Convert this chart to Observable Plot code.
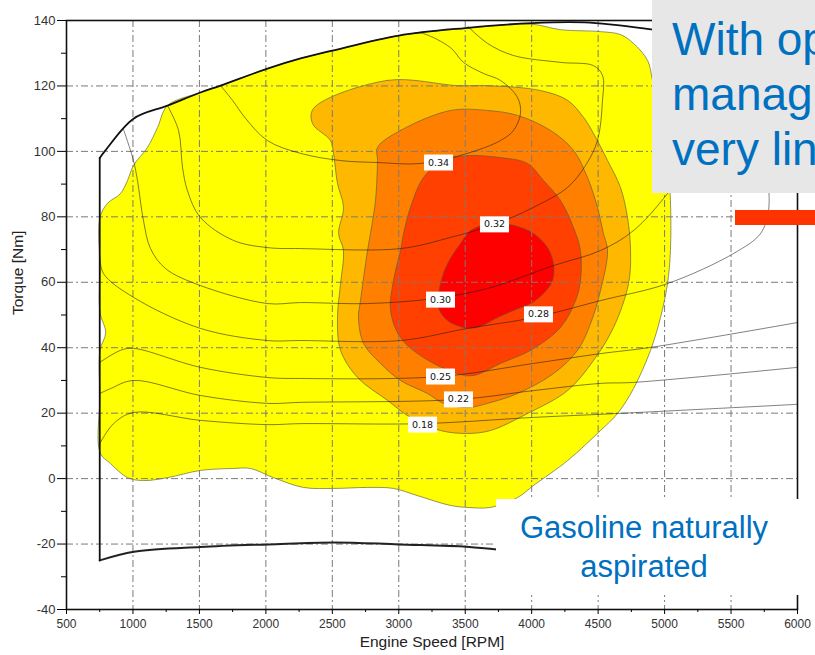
<!DOCTYPE html>
<html><head><meta charset="utf-8">
<script src="https://cdn.jsdelivr.net/npm/d3@7"></script>
<script src="https://cdn.jsdelivr.net/npm/@observablehq/plot@0.6"></script>
<style>
html,body{margin:0;padding:0;background:#fff;overflow:hidden;}
#wrap{position:relative;width:815px;height:655px;overflow:hidden;}
#wrap svg{display:block;}
.note{position:absolute;font-family:"Liberation Sans",Arial,sans-serif;color:#0070C0;white-space:nowrap;overflow:hidden;}
#grayBox{left:652px;top:0;width:163px;height:193px;background:#e7e7e7;font-size:46px;line-height:55px;padding:12px 0 0 20px;box-sizing:border-box;}
#whiteBox{left:496px;top:499px;width:319px;height:96px;background:#fff;font-size:31px;line-height:39px;padding-top:9px;box-sizing:border-box;}
#whiteBox div{width:296px;text-align:center;}
#bar{position:absolute;left:735px;top:210px;width:80px;height:15px;background:#ff3300;}
</style></head><body><div id="wrap"></div>
<script>
// axis ticks
const xTicks = [500,1000,1500,2000,2500,3000,3500,4000,4500,5000,5500,6000];
const xMinor = [750,1250,1750,2250,2750,3250,3750,4250,4750,5250,5750];
const yTicks = [-40,-20,0,20,40,60,80,100,120,140];
const yMinor = [-30,-10,10,30,50,70,90,110,130];
const xGrid = [1000,1500,2000,2500,3000,3500,4000,4500,5000,5500];
const yGrid = [-20,0,20,40,60,80,100,120];

// engine limits [rpm, Nm]
const fullLoadCurve = [[750,98],[793,100.3],[1004,110],[1260,114],[1508,118],[1659,120.1],[2012,125.3],[2261,128.4],[2500,130.8],[3000,135.4],[3500,137.7],[4000,139.2],[4400,139.4],[4900,137.3],[5200,135.5]];
const motoringCurve = [[750,-25],[1020,-22.3],[1508,-20.9],[2020,-20.1],[2510,-19.5],[3000,-20.1],[3510,-20.8],[3720,-21.6],[4100,-23]];
const idleLine = [[750,-25],[750,98]];

// filled efficiency zones [rpm, Nm]
const zoneYellow = [[1260,114.0],[1508,118.0],[1659,120.1],[2012,125.3],[2261,128.4],[2509,130.8],[2998,135.4],[3502,137.6],[3991,138.9],[4217,137.2],[4518,136.6],[4668,135.7],[4766,133.0],[4872,127.8],[4909,121.7],[4969,109.4],[5022,97.2],[5044,85.0],[5044,69.7],[5022,59.6],[4969,49.2],[4894,39.2],[4766,27.5],[4646,19.9],[4518,14.7],[4270,5.5],[4014,-2.1],[3893,-5.8],[3690,-8.8],[3517,-8.8],[3389,-8.2],[3141,-5.2],[2960,-3.0],[2765,-2.7],[2509,-3.0],[2283,-2.7],[2057,0.3],[1884,3.1],[1756,3.1],[1508,2.5],[1260,0.3],[1079,-0.6],[959,0.3],[831,4.6],[752,8.0],[751,25],[752,39.2],[795,44.6],[752,50.8],[751,65],[752,79.8],[808,84.1],[906,87.1],[959,91.1],[1004,95.7],[1109,101.2],[1185,107.3]];
const zoneLightOrange = [[2358,113.1],[2915,121.7],[3442,120.1],[3668,120.1],[4066,118.6],[4270,115.6],[4390,110.4],[4465,105.5],[4571,97.2],[4668,89.0],[4721,79.8],[4744,69.7],[4729,59.6],[4616,46.2],[4465,36.1],[4270,26.9],[3969,19.9],[3690,14.7],[3517,13.8],[3314,14.7],[3088,18.7],[2915,23.9],[2690,30.9],[2562,39.2],[2539,49.2],[2562,59.6],[2584,69.7],[2547,74.9],[2584,82.9],[2539,90.2],[2509,99.4],[2486,103.3],[2351,108.5]];
const zoneOrange = [[2840,101.2],[3013,106.4],[3389,112.5],[3668,112.5],[3893,111.0],[4142,106.4],[4315,100.3],[4420,92.0],[4495,82.9],[4540,74.9],[4571,69.7],[4518,57.5],[4443,47.4],[4345,39.2],[4164,32.1],[3893,26.0],[3668,23.0],[3517,21.7],[3337,23.0],[3216,26.0],[3013,30.0],[2863,35.2],[2735,41.3],[2697,49.2],[2712,54.4],[2765,69.7],[2787,74.9],[2825,85.0],[2840,97.2]];
const zoneRedOrange = [[3337,97.2],[3517,98.7],[3765,98.1],[3969,96.3],[4089,91.1],[4217,85.0],[4315,76.7],[4367,69.7],[4367,60.5],[4330,54.4],[4217,46.2],[3991,39.2],[3765,35.2],[3562,31.5],[3442,32.1],[3186,37.0],[3013,43.1],[2938,51.4],[2960,60.5],[3013,69.7],[3036,74.9],[3088,82.9],[3186,92.0]];
const zoneRed = [[3540,75.8],[3690,78.0],[3863,77.4],[4014,74.9],[4119,70.6],[4164,65.7],[4157,60.5],[4089,56.6],[3991,53.5],[3863,51.4],[3743,49.2],[3592,46.2],[3487,46.2],[3367,48.3],[3299,52.3],[3314,59.6],[3367,65.7],[3465,71.9]];
const zoneColors = ["#ffff00","#ffb800","#ff8000","#ff4000","#ff0000"];

// iso lines [rpm, Nm]
const iso034 = [[1659,120.1],[1749,115.6],[1847,110.1],[2012,103.3],[2261,99.4],[2562,97.2],[2840,96.6],[3164,96.3],[3517,99.4],[3765,103.3],[3863,106.4],[3916,111.6],[3893,116.5],[3765,121.7],[3638,123.8],[3487,127.2],[3389,131.7],[3186,136.0],[3120,136.2]];
const iso032 = [[1260,114],[1343,106.4],[1373,95.1],[1410,88.0],[1508,79.8],[1756,72.8],[2012,70.6],[2261,70.3],[3013,70.3],[3389,73.7],[3720,77.7],[4014,82.9],[4270,89.0],[4405,95.7],[4495,103.3],[4533,115.6],[4533,123.2],[4465,126.2],[4217,127.2],[3863,129.3],[3668,133.0],[3517,138.3]];
const iso030 = [[929,106.7],[1004,97.2],[1034,91.1],[1079,78.9],[1132,70.3],[1245,64.2],[1508,59.0],[2012,53.5],[2261,53.8],[2765,53.5],[3261,55.0],[3668,58.1],[4164,65.1],[4518,69.7],[4766,75.8],[5022,87.1],[5195,97.2]];
const iso028 = [[750,68],[778,62.7],[1004,55.4],[1508,45.9],[2012,42.2],[2261,42.2],[3013,42.2],[3517,45.9],[4014,49.2],[4518,54.4],[5022,59.6],[5519,68.8],[5722,74.9],[5782,81.9],[5782,90]];
const iso025 = [[750,35.5],[906,39.2],[1004,39.8],[1508,34.0],[2012,30.9],[2261,30.6],[3314,31.2],[4014,35.2],[4518,38.2],[4894,40.1],[6000,47.7]];
const iso022 = [[750,26.0],[831,27.5],[1004,30.0],[1508,25.4],[2012,23.0],[2261,23.3],[3449,24.2],[4014,26.9],[4518,29.1],[4766,29.4],[6000,34.0]];
const iso018 = [[750,10.7],[854,16.8],[1004,20.2],[1508,17.8],[2012,16.5],[2261,16.8],[3179,16.8],[4014,18.7],[4646,19.9],[6000,22.7]];

// line labels
const effLabels = ["0.34","0.32","0.30","0.28","0.25","0.22","0.18"];
const labelRpm = [3299,3720,3314,4051,3314,3449,3179];
const labelNm = [96.6,77.7,54.7,50.2,31.2,24.2,16.5];

// annotations
const noteTop = ["With op","manag","very lin"];
const noteBottom = ["Gasoline naturally","aspirated"];

const pts = a => a.map(([x, y]) => ({x, y}));
const zones = [zoneYellow, zoneLightOrange, zoneOrange, zoneRedOrange, zoneRed];
const isoLines = [iso034, iso032, iso030, iso028, iso025, iso022, iso018];
const labels = effLabels.map((t, i) => ({t, x: labelRpm[i], y: labelNm[i]}));
const labelBox = {draw(ctx) { ctx.rect(-14.5, -8, 29, 16); }};

const chart = Plot.plot({
  width: 815, height: 655,
  marginLeft: 66, marginRight: 18, marginTop: 20, marginBottom: 46,
  style: {fontFamily: "'Liberation Sans', Arial, sans-serif", background: "#fff"},
  x: {domain: [500, 6000], label: null},
  y: {domain: [-40, 140], label: null},
  marks: [
    ...zones.map((z, i) => Plot.line(pts(z), {x: "x", y: "y", fill: zoneColors[i], stroke: "#5a5a3a", strokeWidth: 0.8, strokeOpacity: 0.8, curve: "catmull-rom-closed"})),
    Plot.ruleX(xGrid, {stroke: "#7a7a7a", strokeWidth: 1, strokeDasharray: "7,3,2,3"}),
    Plot.ruleY(yGrid, {stroke: "#7a7a7a", strokeWidth: 1, strokeDasharray: "7,3,2,3"}),
    ...isoLines.map(l => Plot.line(pts(l), {x: "x", y: "y", stroke: "#1a1a1a", strokeOpacity: 0.55, strokeWidth: 1, curve: "catmull-rom"})),
    Plot.line(pts(fullLoadCurve), {x: "x", y: "y", stroke: "#111", strokeWidth: 1.8, curve: "catmull-rom"}),
    Plot.line(pts(motoringCurve), {x: "x", y: "y", stroke: "#222", strokeWidth: 2, curve: "catmull-rom"}),
    Plot.line(pts(idleLine), {x: "x", y: "y", stroke: "#111", strokeWidth: 1.8}),
    Plot.frame({stroke: "#111", strokeWidth: 1.6}),
    Plot.axisX(xTicks, {tickSize: 5, tickPadding: 5, fontSize: 12, fill: "#333", label: null, tickFormat: d => String(d)}),
    Plot.axisX(xMinor, {tickSize: 3, text: null, label: null}),
    Plot.axisY(yTicks, {tickSize: 9, tickPadding: 2, fontSize: 13, fill: "#333", label: null, tickFormat: d => String(d)}),
    Plot.axisY(yMinor, {tickSize: 5, text: null, label: null}),
    Plot.text(["Engine Speed [RPM]"], {frameAnchor: "bottom", dy: 37, fontSize: 15.5, fill: "#222"}),
    Plot.text(["Torque [Nm]"], {frameAnchor: "left", dx: -48, rotate: -90, fontSize: 15.5, fill: "#222"}),
    Plot.dot(labels, {x: "x", y: "y", symbol: labelBox, fill: "#fff", stroke: null}),
    Plot.text(labels, {x: "x", y: "y", text: "t", fontSize: 9.5, fontFamily: "'DejaVu Sans', sans-serif", fill: "#111"})
  ]
});

const wrap = document.getElementById("wrap");
wrap.appendChild(chart);

const gray = document.createElement("div");
gray.className = "note"; gray.id = "grayBox";
noteTop.forEach(t => { const d = document.createElement("div"); d.textContent = t; gray.appendChild(d); });
wrap.appendChild(gray);

const bar = document.createElement("div"); bar.id = "bar"; wrap.appendChild(bar);

const white = document.createElement("div");
white.className = "note"; white.id = "whiteBox";
noteBottom.forEach(t => { const d = document.createElement("div"); d.textContent = t; white.appendChild(d); });
wrap.appendChild(white);
</script>
</body></html>
